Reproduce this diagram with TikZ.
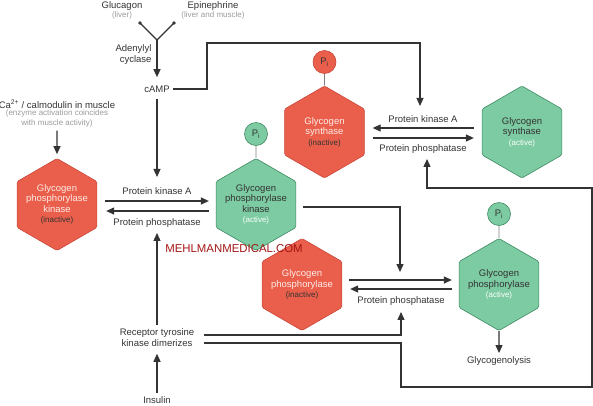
\documentclass[tikz,border=0pt]{standalone}
\usepackage{fontspec}
\setmainfont{Liberation Sans}
\usetikzlibrary{shapes.geometric,arrows.meta,positioning}

\definecolor{hexred}{HTML}{EA5F4B}
\definecolor{hexredline}{HTML}{C9473A}
\definecolor{hexgreen}{HTML}{7DCBA2}
\definecolor{hexgreenline}{HTML}{3E8A62}
\definecolor{inkgray}{HTML}{333333}
\definecolor{notegray}{HTML}{9B9B9B}
\definecolor{markred}{HTML}{A31515}

\newcommand{\hexstate}[2]{{\fontsize{8}{10}\selectfont\textcolor{#1}{(#2)}}}

\tikzset{
  hexa/.style={regular polygon, regular polygon sides=6, shape border rotate=90,
    minimum size=92pt, inner sep=-8pt, align=center, rounded corners=1.5pt, line width=0.6pt},
  redhex/.style={hexa, fill=hexred, draw=hexredline, text=white!88!hexred},
  greenhex/.style={hexa, fill=hexgreen, draw=hexgreenline, text=inkgray},
  phos/.style={circle, minimum size=23pt, inner sep=0pt, line width=0.6pt},
  redphos/.style={phos, fill=hexred, draw=hexredline},
  greenphos/.style={phos, fill=hexgreen, draw=hexgreenline},
  note/.style={font=\fontsize{8}{9.5}\selectfont, text=notegray},
  wire/.style={draw=inkgray, line width=1.2pt},
  arr/.style={wire, -{Triangle[length=8pt,width=7pt]}},
  stem/.style={draw=gray, line width=0.6pt}
}

\begin{document}
\begin{tikzpicture}[x=1pt,y=-1pt, every node/.append style={font=\fontsize{9.5}{10.5}\selectfont, text=inkgray}]
    \useasboundingbox (0,0) rectangle (593,405);

    \node[redhex] (kinRed) at (57,204.5) {Glycogen\\phosphorylase\\kinase\\\hexstate{inkgray}{inactive}};
    \node[greenhex] (kinGreen) at (256,204.5) {Glycogen\\phosphorylase\\kinase\\\hexstate{white}{active}};
    \node[greenphos] (piKin) at (256,134) {P\textsubscript{i}};
    \node[redhex] (synRed) at (324.5,132) {Glycogen\\synthase\\\hexstate{inkgray}{inactive}};
    \node[greenhex] (synGreen) at (522,132) {Glycogen\\synthase\\\hexstate{white}{active}};
    \node[redphos] (piSyn) at (324.5,62) {P\textsubscript{i}};
    \node[redhex] (phRed) at (302,284.5) {Glycogen\\phosphorylase\\\hexstate{inkgray}{inactive}};
    \node[greenhex] (phGreen) at (499,284.5) {Glycogen\\phosphorylase\\\hexstate{white}{active}};
    \node[greenphos] (piPh) at (499,214) {P\textsubscript{i}};

    \node (glucagon) at (122,6) {Glucagon};
    \node[note] (liver) at (122,15.5) {(liver)};
    \node (epi) at (213,6) {Epinephrine};
    \node[note] (liverMuscle) at (213,15.5) {(liver and muscle)};
    \node[align=right, anchor=east] (adenylyl) at (155,54.5) {Adenylyl\\cyclase};
    \node (camp) at (157,89) {cAMP};
    \node (ca) at (57,104) {Ca\textsuperscript{2+} / calmodulin in muscle};
    \node[note, align=center] (caNote) at (57,118.5) {(enzyme activation coincides\\with muscle activity)};
    \node (pka1) at (157,191) {Protein kinase A};
    \node (ppase1) at (157,223) {Protein phosphatase};
    \node (pka2) at (423,119) {Protein kinase A};
    \node (ppase2) at (423,149) {Protein phosphatase};
    \node (ppase3) at (401,301) {Protein phosphatase};
    \node[align=center] (rtk) at (157,337.5) {Receptor tyrosine\\kinase dimerizes};
    \node (insulin) at (157,400) {Insulin};
    \node (lysis) at (499,361) {Glycogenolysis};

    \coordinate (recL) at (140,23);
    \coordinate (recR) at (174,23);
    \coordinate (cyclase) at (157,40);
    \coordinate (campTurn) at (207,43);
    \coordinate (phJoin) at (400,272);
    \coordinate (loopA) at (401,387);
    \coordinate (loopB) at (592,188);

    \fill[inkgray] (recL) circle (1.8);
    \fill[inkgray] (recR) circle (1.8);
    \draw[wire] (recL) -- (cyclase) -- (recR);
    \draw[arr, shorten >=5pt] (cyclase) -- (camp.north);
    \draw[arr, shorten <=3pt, shorten >=7pt] (camp.south) -- (pka1.north);
    \draw[arr, shorten >=6pt] (camp.east) -| (campTurn) -| ([xshift=-3pt]pka2.north);
    \draw[arr, shorten >=4pt] (caNote.south) -- (kinRed.north);

    \draw[arr] ([xshift=8pt,yshift=3.5pt]kinRed.east) -- ([xshift=-7pt,yshift=3.5pt]kinGreen.west);
    \draw[arr] ([xshift=-7pt,yshift=-6.5pt]kinGreen.west) -- ([xshift=9pt,yshift=-6.5pt]kinRed.east);
    \draw[arr] ([xshift=-8pt,yshift=4pt]synGreen.west) -- ([xshift=8pt,yshift=4pt]synRed.east);
    \draw[arr] ([xshift=8pt,yshift=-6pt]synRed.east) -- ([xshift=-8pt,yshift=-6pt]synGreen.west);
    \draw[arr] ([xshift=7pt,yshift=4.5pt]phRed.east) -- ([xshift=-7pt,yshift=4.5pt]phGreen.west);
    \draw[arr] ([xshift=-7pt,yshift=-4.5pt]phGreen.west) -- ([xshift=8pt,yshift=-4.5pt]phRed.east);
    \draw[arr] ([xshift=7pt,yshift=-2.5pt]kinGreen.east) -| (phJoin);

    \draw[arr, shorten >=2pt] (rtk.north) -- (ppase1.south);
    \draw[arr, shorten >=4pt] (insulin.north) -- (rtk.south);
    \draw[arr, shorten >=3pt] ([xshift=6pt,yshift=2.5pt]rtk.east) -| (ppase3.south);
    \draw[arr, shorten >=2pt] ([xshift=6pt,yshift=-5.5pt]rtk.east) -| (loopA) -| (loopB) -| ([xshift=4pt]ppase2.south);
    \draw[arr] (phGreen.south) -- (lysis.north);

    \draw[stem] (piKin) -- (kinGreen);
    \draw[stem] (piSyn) -- (synRed);
    \draw[stem] (piPh) -- (phGreen);

    \node[font=\fontsize{11.4}{12}\selectfont, text=markred] (mark) at (234,249) {MEHLMANMEDICAL.COM};
\end{tikzpicture}
\end{document}
